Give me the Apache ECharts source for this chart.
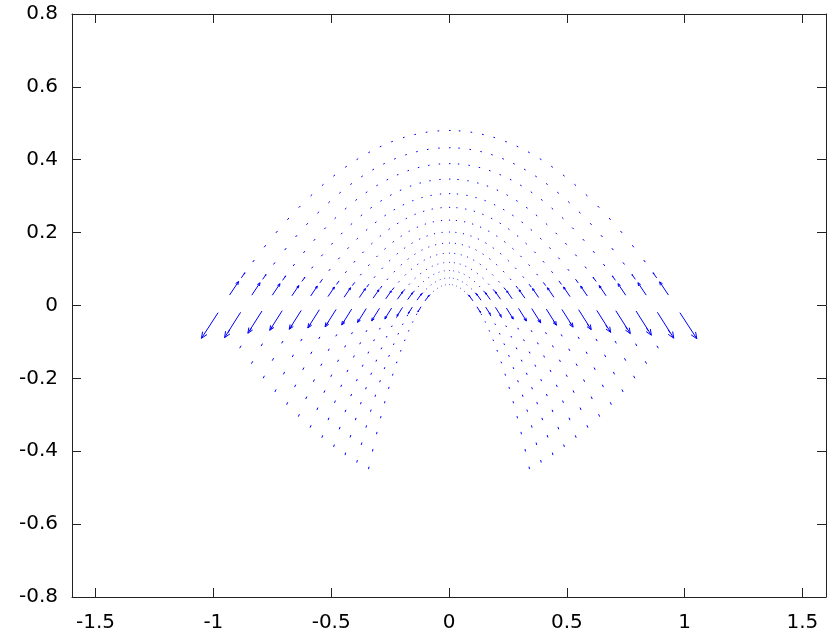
<!DOCTYPE html>
<html><head><meta charset="utf-8">
<script src="https://cdn.jsdelivr.net/npm/echarts@6/dist/echarts.min.js"></script>
<style>html,body{margin:0;padding:0;background:#fff}#c{width:839px;height:641px}</style>
</head><body><div id="c"></div>
<script>
// Curvilinear grid parameters (a: position along each arch, b: one value per arch, inner -> outer)
const gridA = [-0.707,-0.672,-0.636,-0.601,-0.566,-0.530,-0.495,-0.460,-0.424,-0.389,-0.354,-0.318,-0.283,-0.247,-0.212,-0.177,-0.141,-0.106,-0.071,-0.035,0.000,
               0.035,0.071,0.106,0.141,0.177,0.212,0.247,0.283,0.318,0.354,0.389,0.424,0.460,0.495,0.530,0.566,0.601,0.636,0.672,0.707];
const gridB = [0.240,0.275,0.310,0.344,0.379,0.414,0.449,0.484,0.519,0.554,0.589,0.624,0.658,0.693];
// arrow magnitudes (in grid steps along the arch), per arch inner -> outer
const lowerLeftScale   = [0.80,0.87,1.06,1.17,1.26,1.26,1.33,1.38,1.33,1.29,1.28,1.35,1.46,1.46];
const lowerRightScale  = [0.90,1.00,1.10,1.20,1.28,1.30,1.35,1.40,1.45,1.50,1.49,1.47,1.49,1.48];
const upperLeftScale   = [1.00,1.00,0.95,0.92,0.88,0.85,0.82,0.80,0.76,0.72,0.70,0.75,0.75,0.78];
const upperRightScale  = [1.00,1.00,0.95,0.92,0.88,0.85,0.82,0.80,0.76,0.72,0.70,0.75,0.75,0.76];
const upper2Scale      = [0.30,0.30,0.30,0.30,0.30,0.30,0.30,0.30,0.30,0.30,0.30,0.30,0.31,0.31];
const lower2Scale      = [0.16,0.16,0.16,0.16,0.16,0.16,0.16,0.16,0.16,0.16,0.16,0.16,0.16,0.16];
const restScale = 0.14;
const xTicks = [-1.5,-1,-0.5,0,0.5,1,1.5];

const data = [];
gridB.forEach((b, j) => {
  const pts = gridA.map(a => [2*a*b, b*b - a*a]);
  pts.forEach((p, k) => {
    const prev = pts[Math.max(k-1,0)], next = pts[Math.min(k+1,pts.length-1)];
    const span = (k===0||k===pts.length-1) ? 1 : 2;
    let tx = (next[0]-prev[0])/span, ty = (next[1]-prev[1])/span;
    const sgnY = p[1] >= 0 ? 1 : -1;
    if (ty * sgnY < 0) { tx = -tx; ty = -ty; }
    let s = restScale;
    const side = gridA[k] < 0 ? -1 : 1;
    const nb1 = pts[k + side], nb2 = pts[k - side];
    if (p[1] < 0 && nb2 && nb2[1] >= 0) s = side < 0 ? lowerLeftScale[j] : lowerRightScale[j];
    else if (p[1] >= 0 && nb1 && nb1[1] < 0) s = side < 0 ? upperLeftScale[j] : upperRightScale[j];
    else if (p[1] >= 0 && nb1 && pts[k+2*side] && nb1[1] >= 0 && pts[k+2*side][1] < 0) s = upper2Scale[j];
    else if (p[1] < 0 && nb2 && pts[k-2*side] && nb2[1] < 0 && pts[k-2*side][1] >= 0) s = lower2Scale[j];
    data.push([p[0], p[1], tx*s, ty*s]);
  });
});

const chart = echarts.init(document.getElementById('c'), null, {renderer:'canvas'});
const font = {fontFamily:'DejaVu Sans', fontSize:20, color:'#000'};
const axisLine = {show:true, onZero:false, lineStyle:{color:'#222', width:1}};
chart.setOption({
  animation:false,
  backgroundColor:'#fff',
  grid:{left:72, right:13, top:14, bottom:44, containLabel:false},
  xAxis:[
    {type:'value', min:-1.6, max:1.6, position:'bottom', axisLine,
     axisTick:{show:true, inside:true, length:9, customValues:xTicks, lineStyle:{color:'#222'}},
     axisLabel:{...font, margin:16, customValues:xTicks, formatter:v=>String(v)},
     splitLine:{show:false}},
    {type:'value', min:-1.6, max:1.6, position:'top', axisLine,
     axisTick:{show:true, inside:true, length:9, customValues:xTicks, lineStyle:{color:'#222'}},
     axisLabel:{show:false}, splitLine:{show:false}}
  ],
  yAxis:[
    {type:'value', min:-0.8, max:0.8, interval:0.2, position:'left', axisLine,
     axisTick:{show:true, inside:true, length:9, lineStyle:{color:'#222'}},
     axisLabel:{...font, margin:14, formatter:v=>String(Math.round(v*10)/10)}, splitLine:{show:false}},
    {type:'value', min:-0.8, max:0.8, interval:0.2, position:'right', axisLine,
     axisTick:{show:true, inside:true, length:9, lineStyle:{color:'#222'}},
     axisLabel:{show:false}, splitLine:{show:false}}
  ],
  series:[{
    type:'custom', xAxisIndex:0, yAxisIndex:0, data, clip:false,
    renderItem(params, api){
      const x=api.value(0), y=api.value(1), u=api.value(2), v=api.value(3);
      const p0=api.coord([x,y]), p1=api.coord([x+u,y+v]);
      const dx=p1[0]-p0[0], dy=p1[1]-p0[1], L=Math.hypot(dx,dy);
      const st={stroke:'#0000ff', lineWidth:1};
      const ch=[{type:'line', shape:{x1:p0[0],y1:p0[1],x2:p1[0],y2:p1[1]}, style:st}];
      if (L>5){
        const h=0.22*L, ang=Math.atan2(dy,dx), w=0.4;
        for (const sg of [-1,1]){
          ch.push({type:'line', shape:{x1:p1[0],y1:p1[1],
            x2:p1[0]-h*Math.cos(ang+sg*w), y2:p1[1]-h*Math.sin(ang+sg*w)}, style:st});
        }
      }
      return {type:'group', children:ch};
    }
  }]
});
</script></body></html>
